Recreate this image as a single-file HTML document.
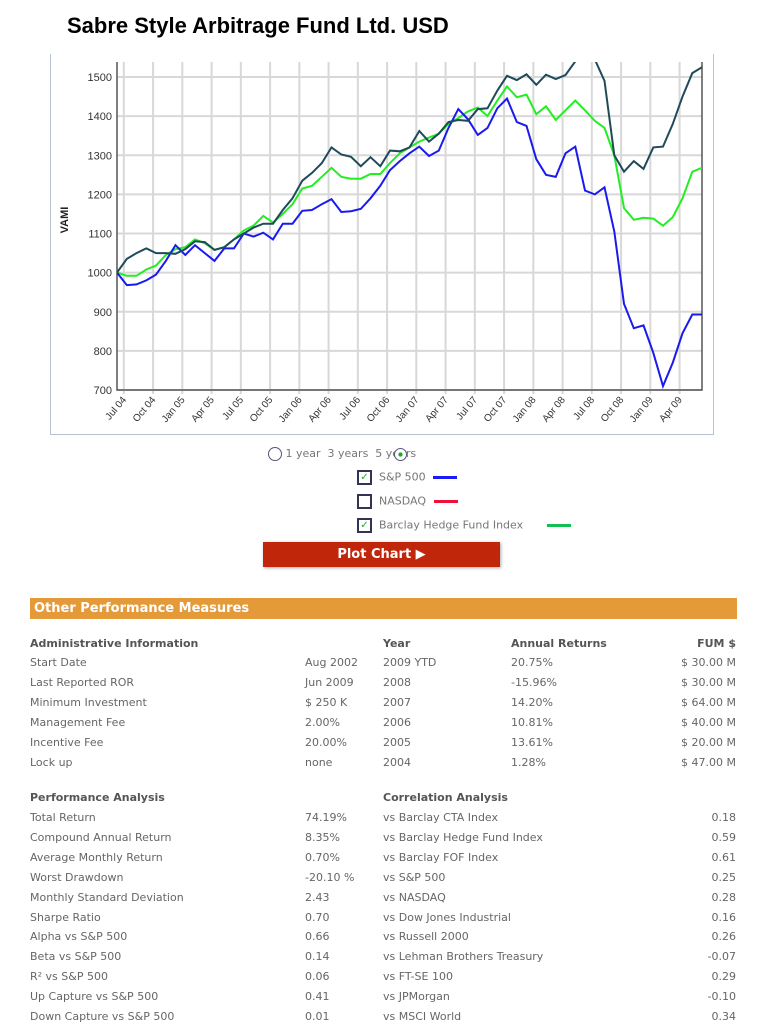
<!DOCTYPE html>
<html><head><meta charset="utf-8">
<style>
body{margin:0;width:761px;height:1026px;background:#fff;position:relative;overflow:hidden;font-family:"DejaVu Sans",Verdana,sans-serif;}
.abs{position:absolute;white-space:nowrap;}
.t{position:absolute;font-size:11px;color:#666;white-space:nowrap;}
.b{font-weight:bold;color:#555;}
.r{text-align:right;}
</style></head><body>
<div class="abs" style="left:67px;top:13px;font:bold 22px 'Liberation Sans',Arial,sans-serif;color:#000;">Sabre Style Arbitrage Fund Ltd. USD</div>
<div class="abs" style="left:50px;top:54px;width:662px;height:380px;border:1px solid #b8c4d4;border-top:none;"></div>
<svg id="chart" width="761" height="440" style="position:absolute;left:0;top:0;"></svg>

<div class="abs" style="left:268px;top:447px;font-size:11px;color:#777;">
<span style="display:inline-block;width:12px;height:12px;border:1.5px solid #557;border-radius:50%;vertical-align:middle;"></span> 1 year &nbsp;<span>3 years</span> &nbsp;5 years<span style="display:inline-block;width:11px;height:11px;border:1.5px solid #557;border-radius:50%;vertical-align:middle;margin-left:-22px;background:radial-gradient(#2a2 25%,#fff 30%);"></span></div>

<div class="abs" style="left:357px;top:470px;font-size:11px;color:#777;"><span style="display:inline-block;width:11px;height:11px;border:2px solid #335;vertical-align:middle;font-size:10px;line-height:11px;color:#2a2;text-align:center;">✓</span> &nbsp;S&amp;P 500 <span style="display:inline-block;width:24px;height:3px;background:#1a1aff;vertical-align:middle;margin-left:4px;"></span></div>
<div class="abs" style="left:357px;top:494px;font-size:11px;color:#777;"><span style="display:inline-block;width:11px;height:11px;border:2px solid #335;vertical-align:middle;"></span> &nbsp;NASDAQ <span style="display:inline-block;width:24px;height:3px;background:#f0103a;vertical-align:middle;margin-left:4px;"></span></div>
<div class="abs" style="left:357px;top:518px;font-size:11px;color:#777;"><span style="display:inline-block;width:11px;height:11px;border:2px solid #335;vertical-align:middle;font-size:10px;line-height:11px;color:#2a2;text-align:center;">✓</span> &nbsp;Barclay Hedge Fund Index <span style="display:inline-block;width:24px;height:3px;background:#10c050;vertical-align:middle;margin-left:20px;"></span></div>
<div class="abs" style="left:263px;top:542px;width:237px;height:25px;background:#c0260a;color:#fff;font-weight:bold;font-size:13px;line-height:25px;text-align:center;box-shadow:1px 1px 3px #aaa;">Plot Chart ▶</div>

<div class="abs" style="left:30px;top:598px;width:703px;height:21px;background:#e59a3a;color:#fff;font-weight:bold;font-size:13px;line-height:21px;padding-left:4px;">Other Performance Measures</div>

<div>
<div class="t b" style="left:30px;top:637px;">Administrative Information</div>
<div class="t b" style="left:383px;top:637px;">Year</div>
<div class="t b" style="left:511px;top:637px;">Annual Returns</div>
<div class="t b r" style="left:636px;top:637px;width:100px;">FUM $</div>
</div>
<div id="rows1"></div>
<div class="t b" style="left:30px;top:791px;">Performance Analysis</div>
<div class="t b" style="left:383px;top:791px;">Correlation Analysis</div>
<div id="rows2"></div>

<script>
var tickLabels=["Jul 04","Oct 04","Jan 05","Apr 05","Jul 05","Oct 05","Jan 06","Apr 06","Jul 06","Oct 06","Jan 07","Apr 07","Jul 07","Oct 07","Jan 08","Apr 08","Jul 08","Oct 08","Jan 09","Apr 09"];
var yTicks=[700,800,900,1000,1100,1200,1300,1400,1500];
var fundValues=[1000,1035,1050,1062,1050,1050,1048,1060,1080,1078,1058,1065,1085,1100,1115,1125,1125,1160,1190,1235,1255,1280,1320,1302,1296,1272,1295,1272,1312,1310,1320,1362,1335,1355,1385,1390,1388,1418,1420,1465,1503,1492,1507,1480,1506,1495,1505,1540,1565,1545,1490,1300,1258,1285,1265,1320,1322,1380,1450,1510,1525];
var hedgeValues=[1000,992,992,1008,1018,1045,1060,1065,1085,1075,1058,1065,1085,1108,1120,1145,1128,1150,1175,1215,1222,1245,1268,1245,1240,1240,1252,1252,1280,1305,1320,1335,1345,1355,1380,1395,1412,1422,1400,1440,1476,1448,1455,1405,1425,1390,1415,1440,1415,1388,1370,1300,1165,1135,1140,1138,1120,1142,1190,1258,1268];
var sp500Values=[1000,968,970,980,995,1030,1070,1045,1070,1050,1030,1062,1062,1100,1092,1102,1085,1125,1125,1158,1160,1175,1188,1155,1157,1163,1190,1222,1262,1285,1305,1322,1298,1312,1370,1418,1392,1352,1370,1420,1445,1385,1375,1290,1250,1245,1305,1322,1210,1200,1218,1105,920,858,865,795,710,770,845,893,893];

var NS="http://www.w3.org/2000/svg",svg=document.getElementById('chart');
var X0=117,X1=702,Y0=62,Y1=390;
function xs(i){return X0+i*(X1-X0)/(fundValues.length-1);}
function ys(v){return 390-(v-700)*(390-77)/800;}
function mk(t,a){var e=document.createElementNS(NS,t);for(var k in a)e.setAttribute(k,a[k]);svg.appendChild(e);return e;}
var clip=mk('clipPath',{id:'pc'});var cr=document.createElementNS(NS,'rect');cr.setAttribute('x',X0);cr.setAttribute('y',Y0);cr.setAttribute('width',X1-X0);cr.setAttribute('height',Y1-Y0);clip.appendChild(cr);
yTicks.forEach(function(v){
 var g=mk('line',{x1:X0,x2:X1,y1:ys(v),y2:ys(v),stroke:'#d8d8d8','stroke-width':2});
 
 var t=mk('text',{x:X0-5,y:ys(v)+4,'text-anchor':'end','font-size':11,fill:'#333','font-family':'Liberation Sans, Arial, sans-serif'});
 t.textContent=v;
});
tickLabels.forEach(function(l,k){
 var x=xs(0.7+3*k);
 var g=mk('line',{x1:x,x2:x,y1:Y0,y2:Y1+4,stroke:'#d8d8d8','stroke-width':2});
 
 var t=mk('text',{x:x+3,y:Y1+10,'text-anchor':'end','font-size':10,fill:'#333','font-family':'Liberation Sans, Arial, sans-serif',transform:'rotate(-50 '+(x+3)+' '+(Y1+10)+')'});
 t.textContent=l;
});
var ax=mk('path',{d:'M'+X0+' '+Y0+'V'+Y1+'H'+X1+'V'+Y0,fill:'none',stroke:'#555','stroke-width':1.5});

var yl=mk('text',{x:68,y:220,'text-anchor':'middle','font-size':11,'font-weight':'bold',fill:'#222','font-family':'Liberation Sans, Arial, sans-serif',transform:'rotate(-90 68 220)'});
yl.textContent='VAMI';
function line(vals,col,name){
 var d=vals.map(function(v,i){return (i?'L':'M')+xs(i).toFixed(1)+' '+ys(v).toFixed(1);}).join('');
 var p=mk('path',{d:d,fill:'none',stroke:col,'stroke-width':2,'clip-path':'url(#pc)'});
 
}
line(hedgeValues,'#22ee22','barclay-hedge-line');
line(sp500Values,'#1a1aee','sp500-line');
line(fundValues,'#1e4a5a','fund-line');

var rows1=[["Start Date","Aug 2002","2009 YTD","20.75%","$ 30.00 M"],["Last Reported ROR","Jun 2009","2008","-15.96%","$ 30.00 M"],["Minimum Investment","$ 250 K","2007","14.20%","$ 64.00 M"],["Management Fee","2.00%","2006","10.81%","$ 40.00 M"],["Incentive Fee","20.00%","2005","13.61%","$ 20.00 M"],["Lock up","none","2004","1.28%","$ 47.00 M"]];
var rows2=[["Total Return","74.19%","vs Barclay CTA Index","0.18"],["Compound Annual Return","8.35%","vs Barclay Hedge Fund Index","0.59"],["Average Monthly Return","0.70%","vs Barclay FOF Index","0.61"],["Worst Drawdown","-20.10 %","vs S&P 500","0.25"],["Monthly Standard Deviation","2.43","vs NASDAQ","0.28"],["Sharpe Ratio","0.70","vs Dow Jones Industrial","0.16"],["Alpha vs S&P 500","0.66","vs Russell 2000","0.26"],["Beta vs S&P 500","0.14","vs Lehman Brothers Treasury","-0.07"],["R² vs S&P 500","0.06","vs FT-SE 100","0.29"],["Up Capture vs S&P 500","0.41","vs JPMorgan","-0.10"],["Down Capture vs S&P 500","0.01","vs MSCI World","0.34"]];
function cell(par,txt,x,y,right){var d=document.createElement('div');d.className='t'+(right?' r':'');d.style.left=(right?636:x)+'px';d.style.top=y+'px';if(right)d.style.width='100px';d.textContent=txt;par.appendChild(d);return d;}
var r1=document.getElementById('rows1');
rows1.forEach(function(r,i){var y=656+i*20;var w=document.createElement('div');


r1.appendChild(w);cell(w,r[0],30,y);cell(w,r[1],305,y);cell(w,r[2],383,y);cell(w,r[3],511,y);cell(w,r[4],0,y,true);});
var r2=document.getElementById('rows2');
rows2.forEach(function(r,i){var y=811+i*19.9;var w=document.createElement('div');


r2.appendChild(w);cell(w,r[0],30,y);cell(w,r[1],305,y);cell(w,r[2],383,y);cell(w,r[3],0,y,true);});
</script>
</body></html>
